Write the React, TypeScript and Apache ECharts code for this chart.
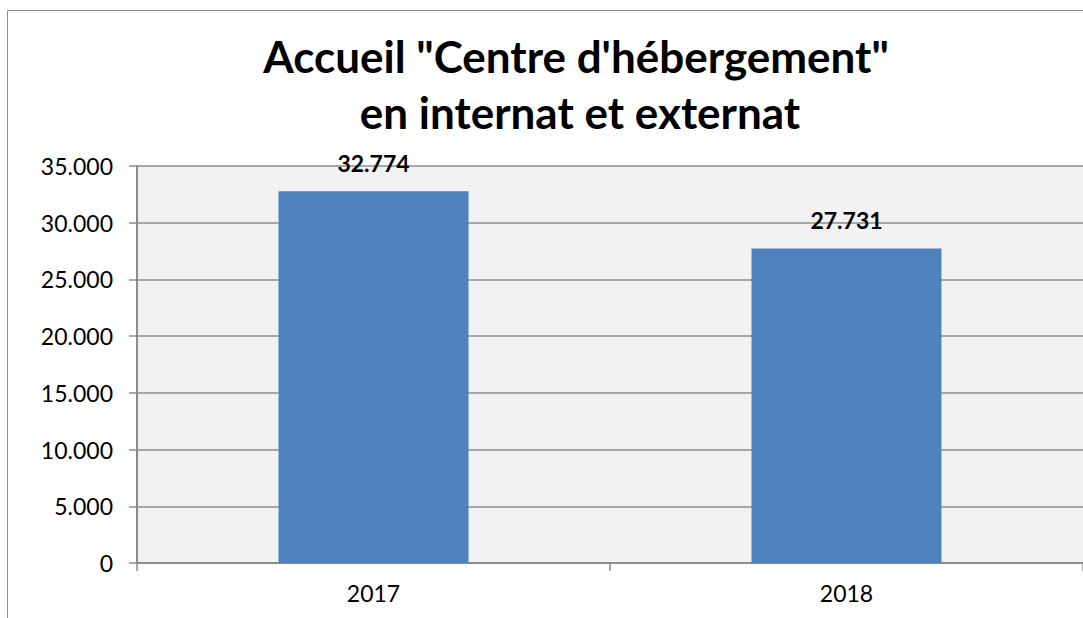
import React, { useEffect, useRef } from "react";
import * as echarts from "echarts";

const categories = ["2017", "2018"];
const values = [32774, 27731];
const titleLines = ['Accueil "Centre d\'hébergement"', "en internat et externat"];
const yMin = 0;
const yMax = 35000;
const yStep = 5000;

const fmt = (v: number) => {
  const s = Math.round(v).toString();
  return s.replace(/\B(?=(\d{3})+(?!\d))/g, ".");
};

export default function App() {
  const ref = useRef<HTMLDivElement>(null);
  useEffect(() => {
    document.body.style.margin = "0";
    const chart = echarts.init(ref.current!, null, { renderer: "svg" });
    const font = "Lato, 'Open Sans', sans-serif";
    chart.setOption({
      animation: false,
      backgroundColor: "#ffffff",
      graphic: [
        {
          type: "rect",
          shape: { x: 7.5, y: 10.5, width: 1300, height: 800 },
          style: { fill: "none", stroke: "#8f8f8f", lineWidth: 1 },
          z: 100,
        },
        {
          type: "text",
          x: 576,
          y: 56,
          style: {
            text: titleLines[0],
            font: `bold 44px ${font}`,
            fill: "#000",
            textAlign: "center",
            textVerticalAlign: "middle",
          },
        },
        {
          type: "text",
          x: 580,
          y: 112,
          style: {
            text: titleLines[1],
            font: `bold 44px ${font}`,
            fill: "#000",
            textAlign: "center",
            textVerticalAlign: "middle",
          },
        },
      ],
      grid: { left: 137, top: 166, right: 0, bottom: 55, show: true, backgroundColor: "#f2f2f2", borderWidth: 0 },
      xAxis: {
        type: "category",
        data: categories,
        boundaryGap: true,
        axisLine: { show: true, lineStyle: { color: "#8c8c8c", width: 2 } },
        axisTick: { show: true, alignWithLabel: false, length: 8, lineStyle: { color: "#8c8c8c", width: 1.5 } },
        axisLabel: { color: "#000", fontFamily: font, fontSize: 23, margin: 18 },
      },
      yAxis: {
        type: "value",
        min: yMin,
        max: yMax,
        interval: yStep,
        axisLine: { show: true, lineStyle: { color: "#8c8c8c", width: 2 } },
        axisTick: { show: true, length: 8, lineStyle: { color: "#8c8c8c", width: 1.5 } },
        splitLine: { show: true, lineStyle: { color: "#8c8c8c", width: 1.5 } },
        axisLabel: { color: "#000", fontFamily: font, fontSize: 23, margin: 24, formatter: (v: number) => fmt(v) },
      },
      series: [
        {
          type: "bar",
          data: values,
          barWidth: 190,
          itemStyle: { color: "#4f81bd" },
          label: {
            show: true,
            position: "top",
            distance: 17,
            color: "#000",
            fontFamily: font,
            fontWeight: "bold",
            fontSize: 23,
            formatter: (p: any) => fmt(p.value),
          },
        },
      ],
    });
    return () => chart.dispose();
  }, []);
  return <div ref={ref} style={{ width: 1083, height: 618 }} />;
}
